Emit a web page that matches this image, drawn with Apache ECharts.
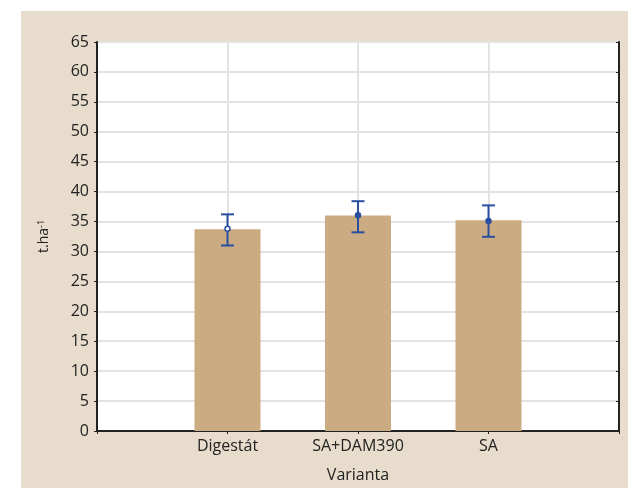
<!DOCTYPE html>
<html><head><meta charset="utf-8">
<script src="https://cdn.jsdelivr.net/npm/echarts@6/dist/echarts.min.js"></script>
<style>html,body{margin:0;padding:0;background:#fff}#c{width:628px;height:488px}</style>
</head><body><div id="c"></div>
<script>
const categories = ['', 'Digestát', 'SA+DAM390', 'SA', ''];
const means = ['-', 33.7, 36.0, 35.2, '-'];
const pointMeans = [33.8, 36.05, 35.1];
const errLow = [31.0, 33.2, 32.45];
const errHigh = [36.2, 38.4, 37.7];
const yTicks = [0, 5, 10, 15, 20, 25, 30, 35, 40, 45, 50, 55, 60, 65];

const FONT = 'Open Sans';
const errData = pointMeans.map((m, i) => [i + 1, errLow[i], errHigh[i], m]);

const chart = echarts.init(document.getElementById('c'), null, {renderer: 'canvas'});
chart.setOption({
  animation: false,
  backgroundColor: '#ffffff',
  graphic: [{type: 'rect', z: -10, shape: {x: 21, y: 11, width: 607, height: 477}, style: {fill: '#e8ddcc'}}],
  grid: {left: 97, top: 42, right: 9, bottom: 57, show: true, backgroundColor: '#ffffff', borderWidth: 0,
         outerBoundsMode: 'none', containLabel: false},
  xAxis: [{
    type: 'category', data: categories, boundaryGap: false,
    name: 'Varianta', nameLocation: 'middle', nameGap: 36,
    nameTextStyle: {fontFamily: FONT, fontSize: 16, color: '#222'},
    axisLine: {lineStyle: {color: '#222', width: 2}},
    axisTick: {show: true, inside: true, length: 3, lineStyle: {color: '#222'}},
    axisLabel: {fontFamily: FONT, fontSize: 16, color: '#222', margin: 7, interval: 0},
    splitLine: {show: true, lineStyle: {color: '#e3e3e3', width: 2}}
  }, {
    type: 'category', data: categories, boundaryGap: false, position: 'top',
    axisLine: {lineStyle: {color: '#222', width: 2}},
    axisTick: {show: true, inside: true, length: 3, lineStyle: {color: '#222'}},
    axisLabel: {show: false}, splitLine: {show: false}
  }],
  yAxis: [{
    type: 'value', min: 0, max: 65, interval: 5,
    name: '{a|t.ha}{s|-1}', nameLocation: 'middle', nameGap: 45, nameRotate: 90,
    nameTextStyle: {rich: {a: {fontFamily: FONT, fontSize: 14, color: '#222'}, s: {fontFamily: FONT, fontSize: 9, color: '#222', verticalAlign: 'top', padding: [0,0,6,0]}}},
    axisLine: {show: true, lineStyle: {color: '#222', width: 2}},
    axisTick: {show: true, length: 3, lineStyle: {color: '#222'}},
    axisLabel: {fontFamily: FONT, fontSize: 16, color: '#222', margin: 8,
      formatter: v => yTicks.includes(v) ? String(v) : ''},
    splitLine: {show: true, lineStyle: {color: '#e3e3e3', width: 2}}
  }, {
    type: 'value', min: 0, max: 65, interval: 5, position: 'right',
    axisLine: {show: true, lineStyle: {color: '#222', width: 2}},
    axisTick: {show: true, inside: true, length: 3, lineStyle: {color: '#222'}},
    axisLabel: {show: false}, splitLine: {show: false}
  }],
  series: [{
    type: 'bar', data: means, barWidth: 66, itemStyle: {color: '#cbab82'}, z: 2
  }, {
    type: 'custom', data: errData, z: 5,
    renderItem: function (params, api) {
      const x = api.value(0);
      const lo = api.coord([x, api.value(1)]);
      const hi = api.coord([x, api.value(2)]);
      const mid = api.coord([x, api.value(3)]);
      const hw = 6.5;
      const st = {stroke: '#2b4fa0', lineWidth: 2};
      return {type: 'group', children: [
        {type: 'line', shape: {x1: lo[0], y1: lo[1], x2: hi[0], y2: hi[1]}, style: st},
        {type: 'line', shape: {x1: lo[0]-hw, y1: lo[1], x2: lo[0]+hw, y2: lo[1]}, style: st},
        {type: 'line', shape: {x1: hi[0]-hw, y1: hi[1], x2: hi[0]+hw, y2: hi[1]}, style: st},
        {type: 'circle', shape: {cx: mid[0], cy: mid[1], r: 2.5}, style: {fill: params.dataIndex === 0 ? '#ffffff' : '#2b4fa0', stroke: '#2b4fa0', lineWidth: 1.5}}
      ]};
    }
  }]
});
</script></body></html>
